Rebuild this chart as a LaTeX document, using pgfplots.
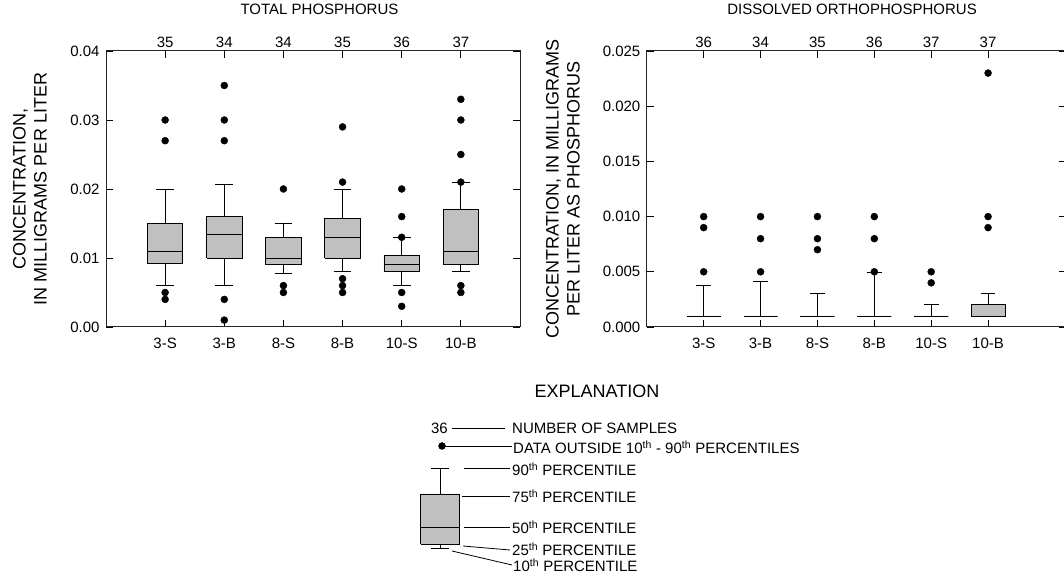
\documentclass[border=0pt]{standalone}
\usepackage{pgfplots}
\pgfplotsset{compat=1.18}
\usepackage{fontspec}
\setmainfont{Liberation Sans}
\definecolor{boxgray}{HTML}{C0C0C0}
\newcommand{\lf}{\fontsize{15bp}{18bp}\selectfont}

\pgfplotsset{
  mybox/.style={
    scale only axis, anchor=north west,
    height=276bp,
    ymin=0, xmin=0,
    xtick={1,...,6},
    xticklabels={3-S,3-B,8-S,8-B,10-S,10-B},
    tick align=inside,
    major tick length=7bp,
    tick style={black, line width=0.8bp},
    axis line style={black!85, line width=1bp},
    ticklabel style={font=\lf},
    x tick label style={yshift=-8bp},
    y tick label style={xshift=-3bp},
    /pgf/number format/assume math mode=true,
    scaled y ticks=false,
    y tick label style={/pgf/number format/fixed, /pgf/number format/fixed zerofill},
    unbounded coords=jump,
    title style={font=\lf, anchor=center, yshift=36bp},
    ylabel style={font=\fontsize{18bp}{21bp}\selectfont, align=center, anchor=center},
  },
  counts/.style={
    scale only axis, anchor=north west,
    height=276bp, ymin=0, ymax=1, xmin=0,
    axis line style={draw=none},
    xtick={1,...,6}, ytick=\empty,
    major tick length=0pt,
    xticklabel pos=right,
    ticklabel style={font=\lf},
    /pgf/number format/assume math mode=true,
  },
  boxst/.style={draw=black, fill=boxgray, line width=0.9bp, mark=none},
  linest/.style={black, line width=0.9bp, mark=none},
  outl/.style={black, only marks, mark=*, mark size=3.5bp, mark options={fill=black, draw=black}},
}

\begin{document}
\begin{tikzpicture}
\path[use as bounding box] (0,0) rectangle (1064bp,578bp);

% ---------------- Total phosphorus ----------------
\begin{axis}[mybox, at={(106bp,527bp)}, width=414bp, xmax=7, ymax=0.04,
  ytick={0,0.01,0.02,0.03,0.04},
  y tick label style={/pgf/number format/precision=2},
  title={TOTAL PHOSPHORUS},
  title style={at={(axis description cs:0.5157,1)}},
  ylabel={CONCENTRATION,\\IN MILLIGRAMS PER LITER},
  ylabel style={at={(axis description cs:-0.1836,0.5)}},
]
% boxes: 25th to 75th percentile
\addplot[boxst] coordinates {
 (0.7,0.0092) (1.3,0.0092) (1.3,0.015)  (0.7,0.015)  (0.7,0.0092) (1,nan)
 (1.7,0.010)  (2.3,0.010)  (2.3,0.016)  (1.7,0.016)  (1.7,0.010)  (2,nan)
 (2.7,0.009)  (3.3,0.009)  (3.3,0.013)  (2.7,0.013)  (2.7,0.009)  (3,nan)
 (3.7,0.010)  (4.3,0.010)  (4.3,0.0157) (3.7,0.0157) (3.7,0.010)  (4,nan)
 (4.7,0.008)  (5.3,0.008)  (5.3,0.0104) (4.7,0.0104) (4.7,0.008)  (5,nan)
 (5.7,0.009)  (6.3,0.009)  (6.3,0.017)  (5.7,0.017)  (5.7,0.009)};
% medians
\addplot[linest] coordinates {
 (0.7,0.011) (1.3,0.011) (1,nan) (1.7,0.0134) (2.3,0.0134) (2,nan)
 (2.7,0.010) (3.3,0.010) (3,nan) (3.7,0.013) (4.3,0.013) (4,nan)
 (4.7,0.009) (5.3,0.009) (5,nan) (5.7,0.011) (6.3,0.011)};
% whiskers: 10th and 90th percentiles
\addplot[linest] coordinates {
 (1,0.006) (1,0.0092) (1,nan) (1,0.015) (1,0.020) (1,nan)
 (2,0.006) (2,0.010)  (2,nan) (2,0.016) (2,0.0207) (2,nan)
 (3,0.0078) (3,0.009) (3,nan) (3,0.013) (3,0.015) (3,nan)
 (4,0.008) (4,0.010)  (4,nan) (4,0.0157) (4,0.020) (4,nan)
 (5,0.006) (5,0.008)  (5,nan) (5,0.0104) (5,0.013) (5,nan)
 (6,0.008) (6,0.009)  (6,nan) (6,0.017) (6,0.021)};
\addplot[linest] coordinates {
 (0.85,0.006) (1.15,0.006) (1,nan) (0.85,0.020) (1.15,0.020) (1,nan)
 (1.85,0.006) (2.15,0.006) (2,nan) (1.85,0.0207) (2.15,0.0207) (2,nan)
 (2.85,0.0078) (3.15,0.0078) (3,nan) (2.85,0.015) (3.15,0.015) (3,nan)
 (3.85,0.008) (4.15,0.008) (4,nan) (3.85,0.020) (4.15,0.020) (4,nan)
 (4.85,0.006) (5.15,0.006) (5,nan) (4.85,0.013) (5.15,0.013) (5,nan)
 (5.85,0.008) (6.15,0.008) (6,nan) (5.85,0.021) (6.15,0.021)};
% data outside 10th - 90th percentiles
\addplot[outl] coordinates {
 (1,0.030) (1,0.027) (1,0.005) (1,0.004)
 (2,0.035) (2,0.030) (2,0.027) (2,0.004) (2,0.001)
 (3,0.020) (3,0.006) (3,0.005)
 (4,0.029) (4,0.021) (4,0.007) (4,0.006) (4,0.005)
 (5,0.020) (5,0.016) (5,0.013) (5,0.005) (5,0.003)
 (6,0.033) (6,0.030) (6,0.025) (6,0.021) (6,0.006) (6,0.005)};
\end{axis}
\begin{axis}[counts, at={(106bp,527bp)}, width=414bp, xmax=7,
  xticklabels={35,34,34,35,36,37}]
\end{axis}

% ---------------- Dissolved orthophosphorus ----------------
\begin{axis}[mybox, at={(646.8bp,527bp)}, width=419.2bp, xmax=7.37, ymax=0.025,
  ytick={0,0.005,0.01,0.015,0.02,0.025},
  y tick label style={/pgf/number format/precision=3},
  title={DISSOLVED ORTHOPHOSPHORUS},
  title style={at={(axis description cs:0.4895,1)}},
  ylabel={CONCENTRATION, IN MILLIGRAMS\\PER LITER AS PHOSPHORUS},
  ylabel style={at={(axis description cs:-0.2,0.5)}},
]
\addplot[boxst] coordinates {
 (0.7,0.001) (1.3,0.001) (1.3,0.001) (0.7,0.001) (0.7,0.001) (1,nan)
 (1.7,0.001) (2.3,0.001) (2.3,0.001) (1.7,0.001) (1.7,0.001) (2,nan)
 (2.7,0.001) (3.3,0.001) (3.3,0.001) (2.7,0.001) (2.7,0.001) (3,nan)
 (3.7,0.001) (4.3,0.001) (4.3,0.001) (3.7,0.001) (3.7,0.001) (4,nan)
 (4.7,0.001) (5.3,0.001) (5.3,0.001) (4.7,0.001) (4.7,0.001) (5,nan)
 (5.7,0.001) (6.3,0.001) (6.3,0.002) (5.7,0.002) (5.7,0.001)};
\addplot[linest] coordinates {
 (1,0.001) (1,0.0038) (1,nan) (2,0.001) (2,0.0041) (2,nan)
 (3,0.001) (3,0.003)  (3,nan) (4,0.001) (4,0.0049) (4,nan)
 (5,0.001) (5,0.002)  (5,nan) (6,0.002) (6,0.003)};
\addplot[linest] coordinates {
 (0.87,0.0038) (1.13,0.0038) (1,nan) (1.87,0.0041) (2.13,0.0041) (2,nan)
 (2.87,0.003) (3.13,0.003) (3,nan) (3.87,0.0049) (4.13,0.0049) (4,nan)
 (4.87,0.002) (5.13,0.002) (5,nan) (5.87,0.003) (6.13,0.003)};
\addplot[outl] coordinates {
 (1,0.010) (1,0.009) (1,0.005)
 (2,0.010) (2,0.008) (2,0.005)
 (3,0.010) (3,0.008) (3,0.007)
 (4,0.010) (4,0.008) (4,0.005)
 (5,0.005) (5,0.004)
 (6,0.023) (6,0.010) (6,0.009)};
\end{axis}
\begin{axis}[counts, at={(646.8bp,527bp)}, width=419.2bp, xmax=7.37,
  xticklabels={36,34,35,36,37,37}]
\end{axis}

% ---------------- Explanation ----------------
\begin{axis}[at={(0bp,0bp)}, anchor=south west, scale only axis,
  width=1064bp, height=578bp, xmin=0, xmax=1064, ymin=0, ymax=578,
  hide axis, clip=false, unbounded coords=jump,
]
\addplot[boxst] coordinates {(420.5,34) (459.5,34) (459.5,84) (420.5,84) (420.5,34)};
\addplot[linest] coordinates {(420.5,51) (459.5,51)};
\addplot[linest] coordinates {(440,84) (440,110) (440,nan) (431,110) (449,110) (440,nan) (440,34) (440,30) (440,nan) (431,30) (449,30)};
\addplot[outl] coordinates {(442,132)};
\addplot[black, line width=0.8bp] coordinates {(452,150) (505,150)};
\addplot[black, line width=0.8bp] coordinates {(442,132) (512,132)};
\addplot[black, line width=0.8bp] coordinates {(464,110) (510,110)};
\addplot[black, line width=0.8bp] coordinates {(462,82) (510,82)};
\addplot[black, line width=0.8bp] coordinates {(464,51) (510,51)};
\addplot[black, line width=0.8bp] coordinates {(463,32) (510,28)};
\addplot[black, line width=0.8bp] coordinates {(452,27) (512,13)};
\node[font=\fontsize{18bp}{21bp}\selectfont] at (axis cs:597,187) {EXPLANATION};
\node[font=\lf, anchor=east, inner sep=1bp] at (axis cs:449,150) {36};
\node[font=\lf, anchor=west, inner sep=1bp] at (axis cs:511,150) {NUMBER OF SAMPLES};
\node[font=\lf, anchor=west, inner sep=1bp] at (axis cs:512,131) {DATA OUTSIDE 10\textsuperscript{th} - 90\textsuperscript{th} PERCENTILES};
\node[font=\lf, anchor=west, inner sep=1bp] at (axis cs:511,109) {90\textsuperscript{th} PERCENTILE};
\node[font=\lf, anchor=west, inner sep=1bp] at (axis cs:511,82) {75\textsuperscript{th} PERCENTILE};
\node[font=\lf, anchor=west, inner sep=1bp] at (axis cs:511,51) {50\textsuperscript{th} PERCENTILE};
\node[font=\lf, anchor=west, inner sep=1bp] at (axis cs:511,29) {25\textsuperscript{th} PERCENTILE};
\node[font=\lf, anchor=west, inner sep=1bp] at (axis cs:512,13) {10\textsuperscript{th} PERCENTILE};
\end{axis}
\end{tikzpicture}
\end{document}
